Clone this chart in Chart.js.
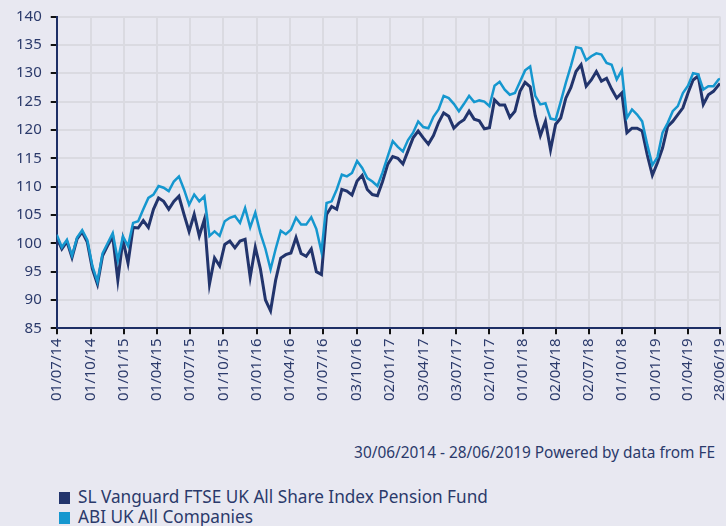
<!DOCTYPE html>
<html>
<head>
<meta charset="utf-8">
<script src="https://cdn.jsdelivr.net/npm/chart.js@4/dist/chart.umd.min.js"></script>
<style>
    body { margin: 0; background: #e8e8f1; overflow: hidden; font-family: 'Noto Sans', sans-serif; }
    #wrap { position: relative; width: 726px; height: 526px; overflow: hidden; }
    #chart { position: absolute; left: 0; top: 0; }
    #source { position: absolute; right: 11px; top: 442px; font-size: 15.4px; color: #2b3a6b; }
    #legend { position: absolute; left: 59px; top: 487px; font-size: 17.2px; color: #2b3a6b; line-height: 20px; }
    #legend .sw { display: inline-block; width: 11px; height: 12px; margin-right: 8px; vertical-align: -1px; }
</style>
</head>
<body>
<div id="wrap">
    <canvas id="chart" width="742" height="407"></canvas>
    <div id="source">30/06/2014 - 28/06/2019 Powered by data from FE</div>
    <div id="legend"></div>
</div>
<script>
// series names and colours
const seriesNames = ['SL Vanguard FTSE UK All Share Index Pension Fund', 'ABI UK All Companies'];
const seriesColors = ['#22346c', '#1597cf'];

// sampling: every 14 days from 30/06/2014, last point 28/06/2019
const startDate = '2014-06-30';
const stepDays = 14;
const endDay = 1824;

const fundValues = [
    101, 99, 100.3, 97.5, 100.8, 102, 100.2, 95.5, 92.8, 97.8,
    99.6, 101.2, 93.5, 100.6, 96.5, 102.8, 102.7, 104, 102.8, 106,
    108, 107.4, 106, 107.4, 108.3, 105.1, 102.1, 105.1, 101.3, 104.2,
    92.8, 97.4, 96,
    99.8, 100.4, 99.2, 100.4, 100.7, 94, 99.3, 95.5, 90, 88.1,
    93.5, 97.4, 98, 98.3, 101, 98.2, 97.7, 99, 95, 94.5,
    105.1, 106.5, 106, 109.5, 109.2, 108.5, 111, 112, 109.5, 108.6,
    108.4, 110.9, 113.9, 115.3,
    115, 114, 116.3, 118.6, 119.8, 118.6, 117.5, 119, 121.3, 123,
    122.4, 120.3, 121.2, 121.8, 123.3, 121.9, 121.6, 120.2, 120.4, 125.3,
    124.4, 124.4, 122.2, 123.3, 126.8, 128.4, 127.6, 122.5, 119, 121.5,
    116.5, 121,
    122.1, 125.6, 127.5, 130.3, 131.5, 127.7, 128.8, 130.3, 128.6, 129.1,
    127.2, 125.6, 126.5, 119.5, 120.3, 120.3, 119.8, 115.6, 112, 114.2,
    116.8, 120.6, 121.5, 122.7, 123.9, 126.5, 128.8, 129.5, 124.5, 126.2,
    126.8, 127.9, 128.2
];

const sectorValues = [
    101.5, 99.3, 100.6, 97.8, 101, 102.3, 100.6, 96, 93.2, 98.2,
    100, 101.8, 97, 101.2, 99.5, 103.6, 103.9, 106, 108, 108.6,
    110.1, 109.8, 109.2, 110.9, 111.8, 109.5, 106.8, 108.6, 107.4, 108.3,
    101.3, 102.1, 101.3,
    103.9, 104.5, 104.8, 103.6, 106.2, 102.8, 105.4, 101.8, 99, 95.4,
    99, 102.2, 101.6, 102.4, 104.5, 103.3, 103.3, 104.6, 102.5, 98.5,
    107.1, 107.4, 109.5, 112.1, 111.8, 112.4, 114.5, 113.3, 111.5, 110.9,
    110.1, 112.5, 115.3, 118,
    117, 116.2, 118.2, 119.5, 121.5, 120.5, 120.3, 122.3, 123.6, 126,
    125.6, 124.6, 123.3, 124.6, 126, 124.9, 125.2, 125, 124.2, 127.8,
    128.5, 127.1, 126.2, 126.5, 128.5, 130.5, 131.2, 126, 124.5, 124.7,
    122, 121.8,
    125, 128.3, 131.3, 134.6, 134.4, 132.3, 133, 133.5, 133.3, 131.8,
    131.5, 128.9, 130.5, 122.1, 123.6, 122.7, 121.5, 117.4, 113.8, 115.2,
    119.5, 121.2, 123.3, 124.2, 126.5, 127.8, 130, 129.8, 127.1, 127.7,
    127.7, 128.9, 129
];

const tickLabels = [
    '01/07/14', '01/10/14', '01/01/15', '01/04/15', '01/07/15', '01/10/15',
    '01/01/16', '01/04/16', '01/07/16', '03/10/16', '02/01/17', '03/04/17',
    '03/07/17', '02/10/17', '01/01/18', '02/04/18', '02/07/18', '01/10/18',
    '01/01/19', '01/04/19', '28/06/19'
];

const yMin = 85, yMax = 140, yStep = 5;

function dayOf(label) {
    const [d, m, y] = label.split('/').map(Number);
    const t0 = Date.parse(startDate + 'T00:00:00Z');
    return Math.round((Date.UTC(2000 + y, m - 1, d) - t0) / 86400000);
}

function dayAt(i) {
    return Math.min(i * stepDays, endDay);
}

const tickDays = tickLabels.map(dayOf);
const toPoints = values => values.map((v, i) => ({ x: dayAt(i), y: v }));

const textColor = '#2b3a6b';
const gridColor = '#dadae1';
const axisColor = '#1e2f66';

new Chart(document.getElementById('chart'), {
    type: 'line',
    data: {
        datasets: [
            {
                label: seriesNames[1],
                data: toPoints(sectorValues),
                borderColor: seriesColors[1],
                borderWidth: 2.5,
                pointRadius: 0,
                tension: 0
            },
            {
                label: seriesNames[0],
                data: toPoints(fundValues),
                borderColor: seriesColors[0],
                borderWidth: 3,
                pointRadius: 0,
                tension: 0
            }
        ]
    },
    options: {
        responsive: false,
        devicePixelRatio: 1,
        animation: false,
        layout: { padding: { top: 2, left: 7, right: 0, bottom: 2 } },
        plugins: {
            legend: { display: false },
            tooltip: { enabled: false }
        },
        scales: {
            x: {
                type: 'linear',
                min: 0,
                max: endDay,
                afterBuildTicks: axis => {
                    axis.ticks = tickDays.map(v => ({ value: v }));
                },
                ticks: {
                    autoSkip: false,
                    maxRotation: 90,
                    minRotation: 90,
                    padding: 4,
                    color: textColor,
                    font: { family: 'Noto Sans', size: 15 },
                    callback: (value, index) => tickLabels[index]
                },
                grid: { color: gridColor, lineWidth: 2, tickLength: 6, tickColor: '#111', tickWidth: 2 },
                border: { color: axisColor, width: 2 }
            },
            y: {
                min: yMin,
                max: yMax,
                ticks: {
                    stepSize: yStep,
                    padding: 9,
                    color: textColor,
                    font: { family: 'Noto Sans', size: 15, lineHeight: 1 }
                },
                grid: { color: gridColor, lineWidth: 2, tickLength: 6, tickColor: '#111', tickWidth: 2 },
                border: { color: axisColor, width: 2 }
            }
        }
    }
});

const legend = document.getElementById('legend');
seriesNames.forEach((name, i) => {
    const row = document.createElement('div');
    row.innerHTML = '<span class="sw" style="background:' + seriesColors[i] + '"></span>' + name;
    legend.appendChild(row);
});
</script>
</body>
</html>
